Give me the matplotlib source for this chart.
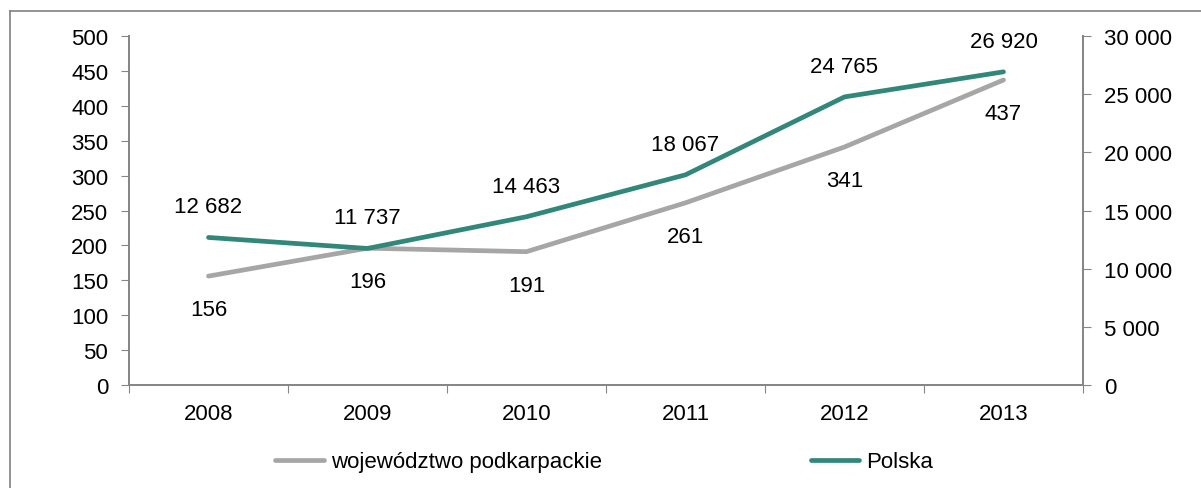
import matplotlib
matplotlib.use("Agg")
import matplotlib.pyplot as plt
from matplotlib.lines import Line2D
from matplotlib.ticker import FuncFormatter

plt.rcParams['font.family'] = ['Liberation Sans', 'DejaVu Sans']
plt.rcParams['font.size'] = 16

years = ['2008', '2009', '2010', '2011', '2012', '2013']
podkarpackie = [156, 196, 191, 261, 341, 437]
polska = [12682, 11737, 14463, 18067, 24765, 26920]

GRAY = '#a6a6a6'
TEAL = '#31877a'
AXIS = '#868686'

def spaced(v, pos=None):
    return '{:,.0f}'.format(v).replace(',', ' ')

fig = plt.figure(figsize=(12.01, 4.89), dpi=100)
ax = fig.add_axes([129 / 1201, 103 / 489, 954 / 1201, 349 / 489])
ax2 = ax.twinx()

x = list(range(len(years)))
ax.plot(x, podkarpackie, color=GRAY, lw=3.4, solid_capstyle='round',
        label='województwo podkarpackie')
ax2.plot(x, polska, color=TEAL, lw=3.4, solid_capstyle='round', label='Polska')

for i, v in enumerate(podkarpackie):
    ax.annotate(str(v), (i, v), xytext=(0, -24), textcoords='offset points',
                ha='center', va='center')
for i, v in enumerate(polska):
    ax2.annotate(spaced(v), (i, v), xytext=(0, 22), textcoords='offset points',
                 ha='center', va='center')

ax.set_xlim(-0.5, 5.5)
ax.set_ylim(0, 500)
ax.set_yticks(range(0, 501, 50))
ax2.set_ylim(0, 30000)
ax2.set_yticks(range(0, 30001, 5000))
ax2.yaxis.set_major_formatter(FuncFormatter(spaced))

# category boundaries carry the tick marks, labels sit between them
ax.set_xticks([i - 0.5 for i in range(len(years) + 1)])
ax.set_xticklabels([])
ax.set_xticks(x, minor=True)
ax.set_xticklabels(years, minor=True)
ax.tick_params(axis='x', which='major', direction='out', length=6, color=AXIS)
ax.tick_params(axis='x', which='minor', length=0, pad=13)
ax.tick_params(axis='y', direction='out', length=6, color=AXIS, pad=9)
ax2.tick_params(axis='y', direction='out', length=6, color=AXIS, pad=9)

for a in (ax, ax2):
    a.spines['top'].set_visible(False)
    for s in ('left', 'right', 'bottom'):
        a.spines[s].set_color(AXIS)
        a.spines[s].set_linewidth(1.3)

h1, l1 = ax.get_legend_handles_labels()
h2, l2 = ax2.get_legend_handles_labels()
fig.legend(h1 + h2, l1 + l2, loc='center', bbox_to_anchor=(0.503, 1 - 463 / 489),
           ncol=2, frameon=False, handlelength=2.2, handletextpad=0.3,
           columnspacing=9.4)

# outer frame around the chart area
fig.add_artist(Line2D([10 / 1201, 10 / 1201], [0, 1 - 12 / 489],
                      transform=fig.transFigure, color='#808080', lw=1.2))
fig.add_artist(Line2D([10 / 1201, 1], [1 - 12 / 489, 1 - 12 / 489],
                      transform=fig.transFigure, color='#808080', lw=1.2))

fig.savefig('out.png', dpi=100)
